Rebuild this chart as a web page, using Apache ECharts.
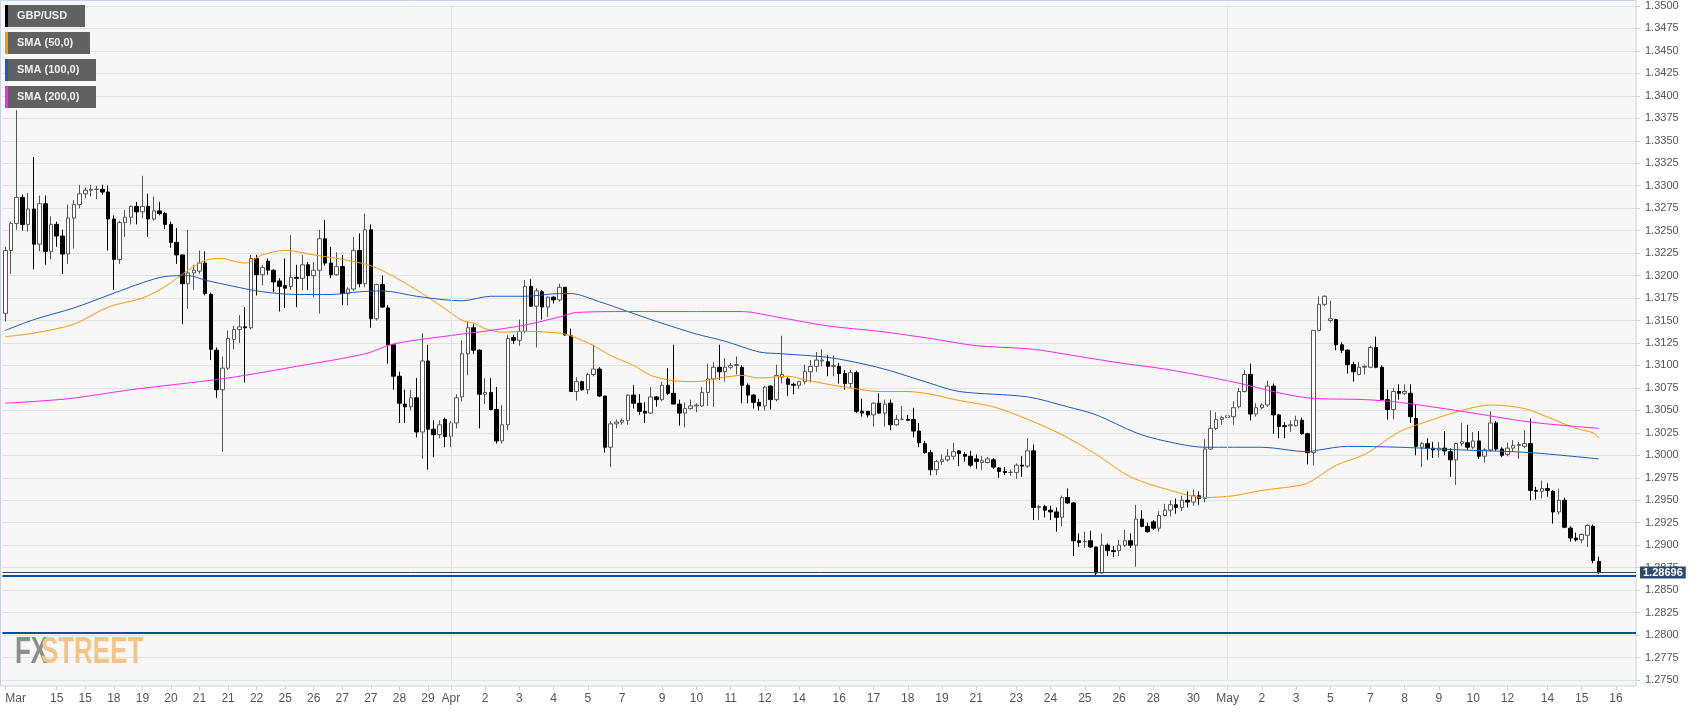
<!DOCTYPE html>
<html>
<head>
<meta charset="utf-8">
<script src="https://cdn.jsdelivr.net/npm/echarts@6/dist/echarts.min.js"></script>
<style>html,body{margin:0;padding:0;background:#fff}#c{width:1707px;height:712px}</style>
</head>
<body>
<div id="c"></div>
<script>
const slotCount = 286;
const tickIndex = [0,9,14,19,24,29,34,39,44,49,54,59,64,69,74,78,84,90,96,102,108,115,121,127,133,139,146,152,158,164,170,177,183,189,195,201,208,214,220,226,232,239,245,251,257,263,270,276,282];
const tickLabels = ['Mar','15','15','18','19','20','21','21','22','25','26','27','27','28','29','Apr','2','3','4','5','7','9','10','11','12','14','16','17','18','19','21','23','24','25','26','28','30','May','2','3','5','7','8','9','10','12','14','15','16'];

const open = [
1.3158,1.3228,1.3258,1.3287,1.3257,1.3274,1.3235,1.3280,1.3227,1.3257,
1.3244,1.3224,1.3264,1.3279,1.3291,1.3295,1.3296,1.3296,1.3293,1.3263,
1.3218,1.3259,1.3265,1.3277,1.3271,1.3277,1.3263,1.3272,1.3269,1.3257,
1.3237,1.3223,1.3191,1.3203,1.3205,1.3214,1.3179,1.3117,1.3073,1.3097,
1.3129,1.3140,1.3143,1.3142,1.3219,1.3201,1.3216,1.3206,1.3194,1.3189,
1.3188,1.3198,1.3197,1.3212,1.3200,1.3206,1.3241,1.3214,1.3201,1.3210,
1.3180,1.3185,1.3228,1.3191,1.3251,1.3152,1.3190,1.3164,1.3123,1.3088,
1.3057,1.3054,1.3064,1.3026,1.3105,1.3029,1.3023,1.3040,1.3021,1.3036,
1.3065,1.3113,1.3142,1.3117,1.3068,1.3070,1.3051,1.3016,1.3034,1.3131,
1.3128,1.3138,1.3188,1.3166,1.3182,1.3165,1.3176,1.3173,1.3187,1.3133,
1.3071,1.3082,1.3073,1.3090,1.3096,1.3066,1.3009,1.3035,1.3037,1.3039,
1.3067,1.3058,1.3049,1.3047,1.3065,1.3062,1.3078,1.3069,1.3057,1.3047,
1.3052,1.3055,1.3055,1.3070,1.3085,1.3098,1.3093,1.3098,1.3100,1.3098,
1.3078,1.3067,1.3059,1.3055,1.3077,1.3062,1.3087,1.3085,1.3079,1.3078,
1.3082,1.3093,1.3099,1.3105,1.3104,1.3099,1.3099,1.3091,1.3080,1.3092,
1.3049,1.3049,1.3045,1.3058,1.3047,1.3058,1.3034,1.3040,1.3040,1.3040,
1.3027,1.3013,1.3003,1.2984,1.2993,1.2995,1.2999,1.3005,1.3001,1.2999,
1.2996,1.2992,1.2992,1.2995,1.2986,1.2982,1.2981,1.2981,1.2989,1.2988,
1.3005,1.2942,1.2943,1.2939,1.2937,1.2931,1.2953,1.2947,1.2905,1.2904,
1.2905,1.2898,1.2869,1.2900,1.2894,1.2894,1.2900,1.2905,1.2900,1.2929,
1.2921,1.2926,1.2919,1.2933,1.2939,1.2945,1.2942,1.2950,1.2948,1.2955,
1.2952,1.3007,1.3030,1.3040,1.3042,1.3043,1.3054,1.3071,1.3090,1.3046,
1.3053,1.3056,1.3077,1.3045,1.3033,1.3033,1.3033,1.3039,1.3024,1.3003,
1.3139,1.3168,1.3150,1.3151,1.3123,1.3117,1.3101,1.3090,1.3098,1.3098,
1.3120,1.3098,1.3062,1.3051,1.3071,1.3069,1.3069,1.3041,1.3009,1.3013,
1.3008,1.3006,1.3008,1.3004,1.2995,1.3013,1.3014,1.3009,1.3016,1.2999,
1.3006,1.3036,1.3007,1.3001,1.3008,1.3011,1.3010,1.3013,1.2961,1.2960,
1.2963,1.2960,1.2937,1.2950,1.2919,1.2908,1.2906,1.2911,1.2921,1.2882];

const close = [
1.3228,1.3258,1.3287,1.3257,1.3274,1.3235,1.3280,1.3227,1.3257,1.3244,
1.3224,1.3264,1.3279,1.3291,1.3295,1.3296,1.3296,1.3293,1.3263,1.3218,
1.3259,1.3265,1.3277,1.3271,1.3277,1.3263,1.3272,1.3269,1.3257,1.3237,
1.3223,1.3191,1.3203,1.3206,1.3214,1.3180,1.3118,1.3073,1.3097,1.3130,
1.3140,1.3143,1.3142,1.3219,1.3201,1.3209,1.3206,1.3193,1.3188,1.3186,
1.3198,1.3197,1.3212,1.3200,1.3206,1.3241,1.3214,1.3201,1.3210,1.3180,
1.3185,1.3228,1.3191,1.3251,1.3152,1.3190,1.3165,1.3123,1.3088,1.3058,
1.3054,1.3064,1.3026,1.3105,1.3029,1.3023,1.3034,1.3021,1.3036,1.3064,
1.3113,1.3142,1.3117,1.3068,1.3070,1.3051,1.3016,1.3034,1.3130,1.3128,
1.3138,1.3188,1.3166,1.3183,1.3165,1.3176,1.3173,1.3187,1.3134,1.3071,
1.3082,1.3073,1.3090,1.3096,1.3066,1.3009,1.3035,1.3037,1.3039,1.3067,
1.3058,1.3049,1.3047,1.3065,1.3062,1.3078,1.3069,1.3057,1.3047,1.3052,
1.3055,1.3056,1.3070,1.3085,1.3098,1.3093,1.3098,1.3100,1.3101,1.3078,
1.3067,1.3059,1.3055,1.3076,1.3062,1.3089,1.3090,1.3079,1.3078,1.3082,
1.3093,1.3099,1.3106,1.3106,1.3099,1.3100,1.3091,1.3080,1.3092,1.3049,
1.3047,1.3045,1.3058,1.3047,1.3057,1.3034,1.3040,1.3040,1.3039,1.3027,
1.3014,1.3003,1.2984,1.2993,1.2995,1.2999,1.3004,1.3002,1.2999,1.2989,
1.2993,1.2994,1.2996,1.2987,1.2982,1.2981,1.2981,1.2989,1.2988,1.3005,
1.2942,1.2943,1.2939,1.2937,1.2931,1.2953,1.2947,1.2905,1.2903,1.2904,
1.2898,1.2869,1.2900,1.2894,1.2893,1.2900,1.2905,1.2900,1.2929,1.2921,
1.2915,1.2919,1.2933,1.2939,1.2945,1.2942,1.2950,1.2948,1.2955,1.2952,
1.3007,1.3030,1.3040,1.3042,1.3044,1.3053,1.3071,1.3090,1.3046,1.3053,
1.3056,1.3077,1.3045,1.3032,1.3032,1.3034,1.3039,1.3024,1.3003,1.3139,
1.3168,1.3177,1.3152,1.3123,1.3117,1.3101,1.3093,1.3098,1.3099,1.3120,
1.3098,1.3062,1.3051,1.3071,1.3069,1.3071,1.3043,1.3010,1.3013,1.3008,
1.3006,1.3008,1.3005,1.2995,1.3013,1.3015,1.3009,1.3016,1.2999,1.3006,
1.3036,1.3007,1.3000,1.3008,1.3011,1.3012,1.3013,1.2961,1.2960,1.2963,
1.2961,1.2937,1.2950,1.2920,1.2908,1.2906,1.2912,1.2922,1.2883,1.28696];

const low = [
1.3149,1.3202,1.3251,1.3250,1.3249,1.3207,1.3227,1.3212,1.3218,1.3232,
1.3202,1.3213,1.3230,1.3275,1.3286,1.3288,1.3285,1.3290,1.3228,1.3184,
1.3213,1.3243,1.3257,1.3257,1.3264,1.3243,1.3261,1.3267,1.3252,1.3231,
1.3213,1.3146,1.3163,1.3184,1.3202,1.3178,1.3106,1.3064,1.3004,1.3095,
1.3118,1.3125,1.3081,1.3140,1.3178,1.3189,1.3201,1.3182,1.3160,1.3164,
1.3184,1.3165,1.3184,1.3184,1.3176,1.3158,1.3211,1.3197,1.3200,1.3167,
1.3167,1.3183,1.3187,1.3187,1.3142,1.3150,1.3164,1.3102,1.3073,1.3036,
1.3036,1.3050,1.3020,1.2996,1.2984,1.2998,1.3019,1.3009,1.3009,1.3030,
1.3060,1.3089,1.3113,1.3030,1.3057,1.3050,1.3013,1.3013,1.3028,1.3124,
1.3122,1.3136,1.3165,1.3120,1.3151,1.3154,1.3169,1.3171,1.3133,1.3071,
1.3061,1.3072,1.3068,1.3088,1.3065,1.3003,1.2987,1.3030,1.3034,1.3034,
1.3052,1.3045,1.3036,1.3046,1.3054,1.3060,1.3067,1.3057,1.3033,1.3031,
1.3051,1.3048,1.3054,1.3055,1.3054,1.3084,1.3082,1.3096,1.3090,1.3058,
1.3058,1.3052,1.3050,1.3050,1.3051,1.3060,1.3080,1.3066,1.3068,1.3074,
1.3079,1.3081,1.3093,1.3099,1.3088,1.3088,1.3080,1.3073,1.3075,1.3047,
1.3043,1.3042,1.3032,1.3046,1.3032,1.3028,1.3033,1.3039,1.3038,1.3020,
1.3009,1.3002,1.2978,1.2978,1.2989,1.2993,1.2995,1.2988,1.2993,1.2987,
1.2985,1.2984,1.2991,1.2985,1.2975,1.2978,1.2977,1.2974,1.2976,1.2986,
1.2928,1.2928,1.2931,1.2928,1.2915,1.2921,1.2946,1.2888,1.2898,1.2897,
1.2897,1.2865,1.2868,1.2888,1.2887,1.2888,1.2898,1.2897,1.2876,1.2920,
1.2914,1.2917,1.2915,1.2932,1.2932,1.2935,1.2938,1.2942,1.2944,1.2945,
1.2948,1.3006,1.3028,1.3034,1.3034,1.3034,1.3052,1.3070,1.3039,1.3043,
1.3051,1.3054,1.3024,1.3019,1.3019,1.3026,1.3032,1.3023,1.2990,1.2989,
1.3138,1.3166,1.3148,1.3117,1.3114,1.3091,1.3082,1.3089,1.3090,1.3097,
1.3097,1.3061,1.3040,1.3040,1.3062,1.3067,1.3036,1.3000,1.2987,1.2995,
1.2997,1.2998,1.3000,1.2976,1.2967,1.3010,1.3006,1.3007,1.2996,1.2992,
1.3004,1.3005,1.2998,1.2999,1.3004,1.2996,1.3008,1.2950,1.2951,1.2952,
1.2954,1.2924,1.2934,1.2919,1.2904,1.2904,1.2902,1.2898,1.2880,1.2868];

const high = [
1.3232,1.3260,1.3384,1.3290,1.3292,1.3332,1.3289,1.3289,1.3266,1.3260,
1.3251,1.3279,1.3284,1.3301,1.3298,1.3301,1.3300,1.3301,1.3300,1.3267,
1.3261,1.3273,1.3278,1.3282,1.3311,1.3291,1.3288,1.3282,1.3271,1.3260,
1.3253,1.3223,1.3251,1.3212,1.3228,1.3227,1.3181,1.3120,1.3110,1.3139,
1.3144,1.3156,1.3165,1.3223,1.3223,1.3212,1.3219,1.3207,1.3197,1.3219,
1.3245,1.3212,1.3223,1.3215,1.3215,1.3251,1.3262,1.3232,1.3226,1.3223,
1.3187,1.3243,1.3247,1.3269,1.3257,1.3191,1.3200,1.3167,1.3123,1.3093,
1.3073,1.3073,1.3086,1.3136,1.3123,1.3039,1.3039,1.3042,1.3038,1.3068,
1.3128,1.3149,1.3146,1.3118,1.3086,1.3086,1.3076,1.3056,1.3134,1.3134,
1.3151,1.3195,1.3196,1.3186,1.3184,1.3177,1.3177,1.3191,1.3187,1.3141,
1.3087,1.3083,1.3092,1.3123,1.3098,1.3066,1.3038,1.3040,1.3041,1.3068,
1.3078,1.3068,1.3059,1.3076,1.3066,1.3082,1.3097,1.3123,1.3062,1.3059,
1.3062,1.3058,1.3076,1.3102,1.3104,1.3123,1.3108,1.3103,1.3110,1.3100,
1.3080,1.3068,1.3063,1.3077,1.3078,1.3101,1.3133,1.3087,1.3081,1.3083,
1.3101,1.3106,1.3115,1.3118,1.3112,1.3111,1.3103,1.3095,1.3095,1.3094,
1.3063,1.3049,1.3059,1.3069,1.3062,1.3062,1.3045,1.3055,1.3045,1.3053,
1.3036,1.3016,1.3006,1.2995,1.3001,1.3007,1.3014,1.3006,1.3004,1.3005,
1.3001,1.2999,1.2998,1.2997,1.2987,1.2987,1.2984,1.2991,1.2999,1.3019,
1.3012,1.2945,1.2945,1.2944,1.2942,1.2955,1.2963,1.2948,1.2913,1.2915,
1.2916,1.2898,1.2913,1.2902,1.2899,1.2906,1.2917,1.2913,1.2945,1.2939,
1.2925,1.2928,1.2938,1.2946,1.2950,1.2952,1.2955,1.2960,1.2962,1.2960,
1.3018,1.3050,1.3048,1.3044,1.3049,1.3060,1.3075,1.3095,1.3102,1.3058,
1.3058,1.3083,1.3080,1.3046,1.3037,1.3039,1.3044,1.3042,1.3025,1.3139,
1.3177,1.3178,1.3172,1.3152,1.3126,1.3118,1.3104,1.3104,1.3101,1.3122,
1.3132,1.3100,1.3073,1.3075,1.3079,1.3079,1.3079,1.3056,1.3015,1.3019,
1.3015,1.3015,1.3027,1.3008,1.3014,1.3036,1.3034,1.3026,1.3027,1.3008,
1.3049,1.3038,1.3009,1.3014,1.3017,1.3015,1.3028,1.3041,1.2965,1.2972,
1.2969,1.2961,1.2963,1.2953,1.2921,1.2914,1.2913,1.2923,1.2923,1.2887];

// moving averages at sample candles: [candle index, value]
const sma50 = [[0,1.3132],[5,1.3136],[12,1.3146],[18,1.3165],[24,1.3175],[28,1.3188],[32,1.3206],[35,1.3217],[38,1.3219],[40,1.3216],[42,1.3214],[45,1.3223],[49,1.3228],[54,1.3223],[59,1.3218],[64,1.3211],[68,1.3199],[73,1.3180],[77,1.3163],[80,1.3150],[82,1.3147],[84,1.3141],[87,1.3137],[91,1.3138],[97,1.3136],[99,1.3133],[103,1.3122],[106,1.3111],[110,1.3100],[113,1.3089],[117,1.3083],[121,1.3082],[126,1.3087],[129,1.3089],[132,1.3086],[137,1.3088],[140,1.3084],[145,1.3078],[150,1.3073],[153,1.3071],[158,1.3071],[162,1.3068],[167,1.3061],[173,1.3054],[179,1.3040],[185,1.3023],[191,1.3001],[197,1.2976],[204,1.2961],[210,1.2953],[215,1.2955],[220,1.2961],[225,1.2965],[228,1.2969],[233,1.2989],[238,1.3001],[244,1.3026],[250,1.3040],[255,1.3050],[260,1.3056],[266,1.3052],[271,1.3040],[275,1.3030],[278,1.3025],[279,1.3019]];
const sma100 = [[0,1.3139],[5,1.3151],[12,1.3164],[18,1.3178],[24,1.3192],[28,1.3199],[32,1.3200],[35,1.3195],[40,1.3188],[45,1.3182],[51,1.3179],[57,1.3179],[62,1.3182],[66,1.3183],[72,1.3177],[77,1.3173],[80,1.3172],[85,1.3177],[91,1.3177],[97,1.3180],[99,1.3180],[104,1.3171],[109,1.3160],[114,1.3149],[121,1.3135],[126,1.3127],[132,1.3115],[136,1.3113],[144,1.3109],[150,1.3102],[155,1.3094],[162,1.3080],[167,1.3071],[179,1.3065],[186,1.3054],[191,1.3045],[198,1.3025],[203,1.3016],[210,1.3009],[220,1.3009],[228,1.3004],[230,1.3006],[235,1.3010],[244,1.3009],[255,1.3006],[267,1.3003],[279,1.2996]];
const sma200 = [[0,1.3058],[11,1.3063],[22,1.3073],[34,1.3082],[40,1.3087],[51,1.3099],[63,1.3113],[68,1.3124],[80,1.3135],[85,1.3139],[91,1.3145],[97,1.3154],[100,1.3159],[109,1.3160],[121,1.3160],[129,1.3160],[135,1.3154],[144,1.3144],[153,1.3138],[162,1.3130],[170,1.3122],[180,1.3118],[188,1.3110],[196,1.3102],[203,1.3096],[214,1.3083],[228,1.3064],[238,1.3062],[244,1.3059],[255,1.3049],[267,1.3037],[279,1.3030]];

const lastPrice = 1.28696;
const levelLines = [1.2866, 1.2803];
const monthStarts = [78, 214];
const legendItems = ['GBP/USD','SMA (50,0)','SMA (100,0)','SMA (200,0)'];
const legendColors = ['#000000','#ff9800','#1e5bb8','#ff22ff'];

const categories = new Array(slotCount).fill('');
tickIndex.forEach((k, i) => { categories[k] = tickLabels[i]; });
const tickSet = new Set(tickIndex);
const candles = open.map((o, i) => [o, close[i], low[i], high[i]]);

const legendWidths = [80, 85, 91, 91];
const graphics = [{
  type: 'rect', z: -10, silent: true,
  shape: { x: 0.5, y: 0.5, width: 1635.5, height: 685.5 },
  style: { fill: '#f7f7f7', stroke: '#c9d2e4', lineWidth: 1 }
}];
legendItems.forEach((t, i) => {
  const y = 5 + i * 27;
  graphics.push({ type: 'rect', z: 100, shape: { x: 5, y: y, width: legendWidths[i], height: 22 }, style: { fill: '#616161' } });
  graphics.push({ type: 'rect', z: 101, shape: { x: 5, y: y, width: 3, height: 22 }, style: { fill: legendColors[i] } });
  graphics.push({ type: 'text', z: 102, x: 17, y: y + 11, style: { text: t, fill: '#efefef', font: 'bold 11px "Liberation Sans", Arial, sans-serif', textVerticalAlign: 'middle', verticalAlign: 'middle' } });
});
graphics.push({ type: 'text', z: 5, x: 15, y: 653, scaleX: 0.72, style: { text: 'FX', fill: '#8d8d8d', font: 'bold 36px "Liberation Sans Narrow", sans-serif', textVerticalAlign: 'middle', verticalAlign: 'middle' } });
graphics.push({ type: 'text', z: 5, x: 41, y: 653, scaleX: 0.72, style: { text: 'STREET', fill: '#f2c487', font: 'bold 36px "Liberation Sans Narrow", sans-serif', textVerticalAlign: 'middle', verticalAlign: 'middle' } });

const chart = echarts.init(document.getElementById('c'), null, { renderer: 'canvas' });
const smaLine = (name, data, color) => ({
  type: 'line', name, data, z: 4, smooth: 0.3, showSymbol: false, symbol: 'none',
  lineStyle: { color, width: 1 }, silent: true
});
chart.setOption({
  animation: false,
  backgroundColor: '#ffffff',
  grid: { left: 2.44, right: 71, top: 6, bottom: 32 },
  xAxis: {
    type: 'category', data: categories, boundaryGap: true, offset: 6,
    axisLine: { show: false },
    axisTick: { show: true, alignWithLabel: true, length: 4, interval: (i) => tickSet.has(i), lineStyle: { color: '#c9d2e4' } },
    axisLabel: { interval: (i) => tickSet.has(i), color: '#555', fontSize: 12, fontFamily: '"Liberation Sans Narrow", sans-serif', margin: 7, alignMinLabel: 'left' },
    splitLine: { show: false }
  },
  yAxis: {
    type: 'value', position: 'right', min: 1.275, max: 1.35, interval: 0.0025, scale: true,
    axisLine: { show: false },
    axisTick: { show: true, length: 4, lineStyle: { color: '#c9d2e4' } },
    axisLabel: { color: '#555', fontSize: 11, fontFamily: '"Liberation Sans", Arial, sans-serif', margin: 9, formatter: (v) => v.toFixed(4) },
    splitLine: { lineStyle: { color: '#e2e2e2', width: 1 } }
  },
  graphic: graphics,
  series: [
    {
      type: 'line', data: [], z: 1, silent: true,
      markLine: { silent: true, symbol: 'none', label: { show: false },
        lineStyle: { color: '#e2e2e2', width: 1, type: 'solid' },
        data: monthStarts.map(k => ({ xAxis: k })) }
    },
    {
      type: 'candlestick', data: candles, z: 3, barWidth: 4,
      itemStyle: { color: '#ffffff', color0: '#000000', borderColor: '#555555', borderColor0: '#000000', borderWidth: 1 }
    },
    smaLine('SMA (50,0)', sma50, legendColors[1]),
    smaLine('SMA (100,0)', sma100, legendColors[2]),
    smaLine('SMA (200,0)', sma200, legendColors[3]),
    {
      type: 'line', data: [], z: 6, silent: true,
      markLine: {
        silent: true, symbol: 'none', animation: false, precision: 5,
        data: [
          { yAxis: levelLines[0], lineStyle: { color: '#0f4aa3', width: 2, type: 'solid' }, label: { show: false } },
          { yAxis: levelLines[1], lineStyle: { color: '#0f4aa3', width: 2, type: 'solid' }, label: { show: false } },
          { yAxis: lastPrice, lineStyle: { color: '#2d4a6c', width: 1, type: 'solid' },
            label: { show: true, position: 'end', distance: 4, formatter: lastPrice.toFixed(5), backgroundColor: '#2d4a6c', color: '#ffffff', fontWeight: 'bold', fontSize: 11, fontFamily: '"Liberation Sans", Arial, sans-serif', padding: [1, 3, 0, 3] } }
        ]
      }
    }
  ]
});
</script>
</body>
</html>
